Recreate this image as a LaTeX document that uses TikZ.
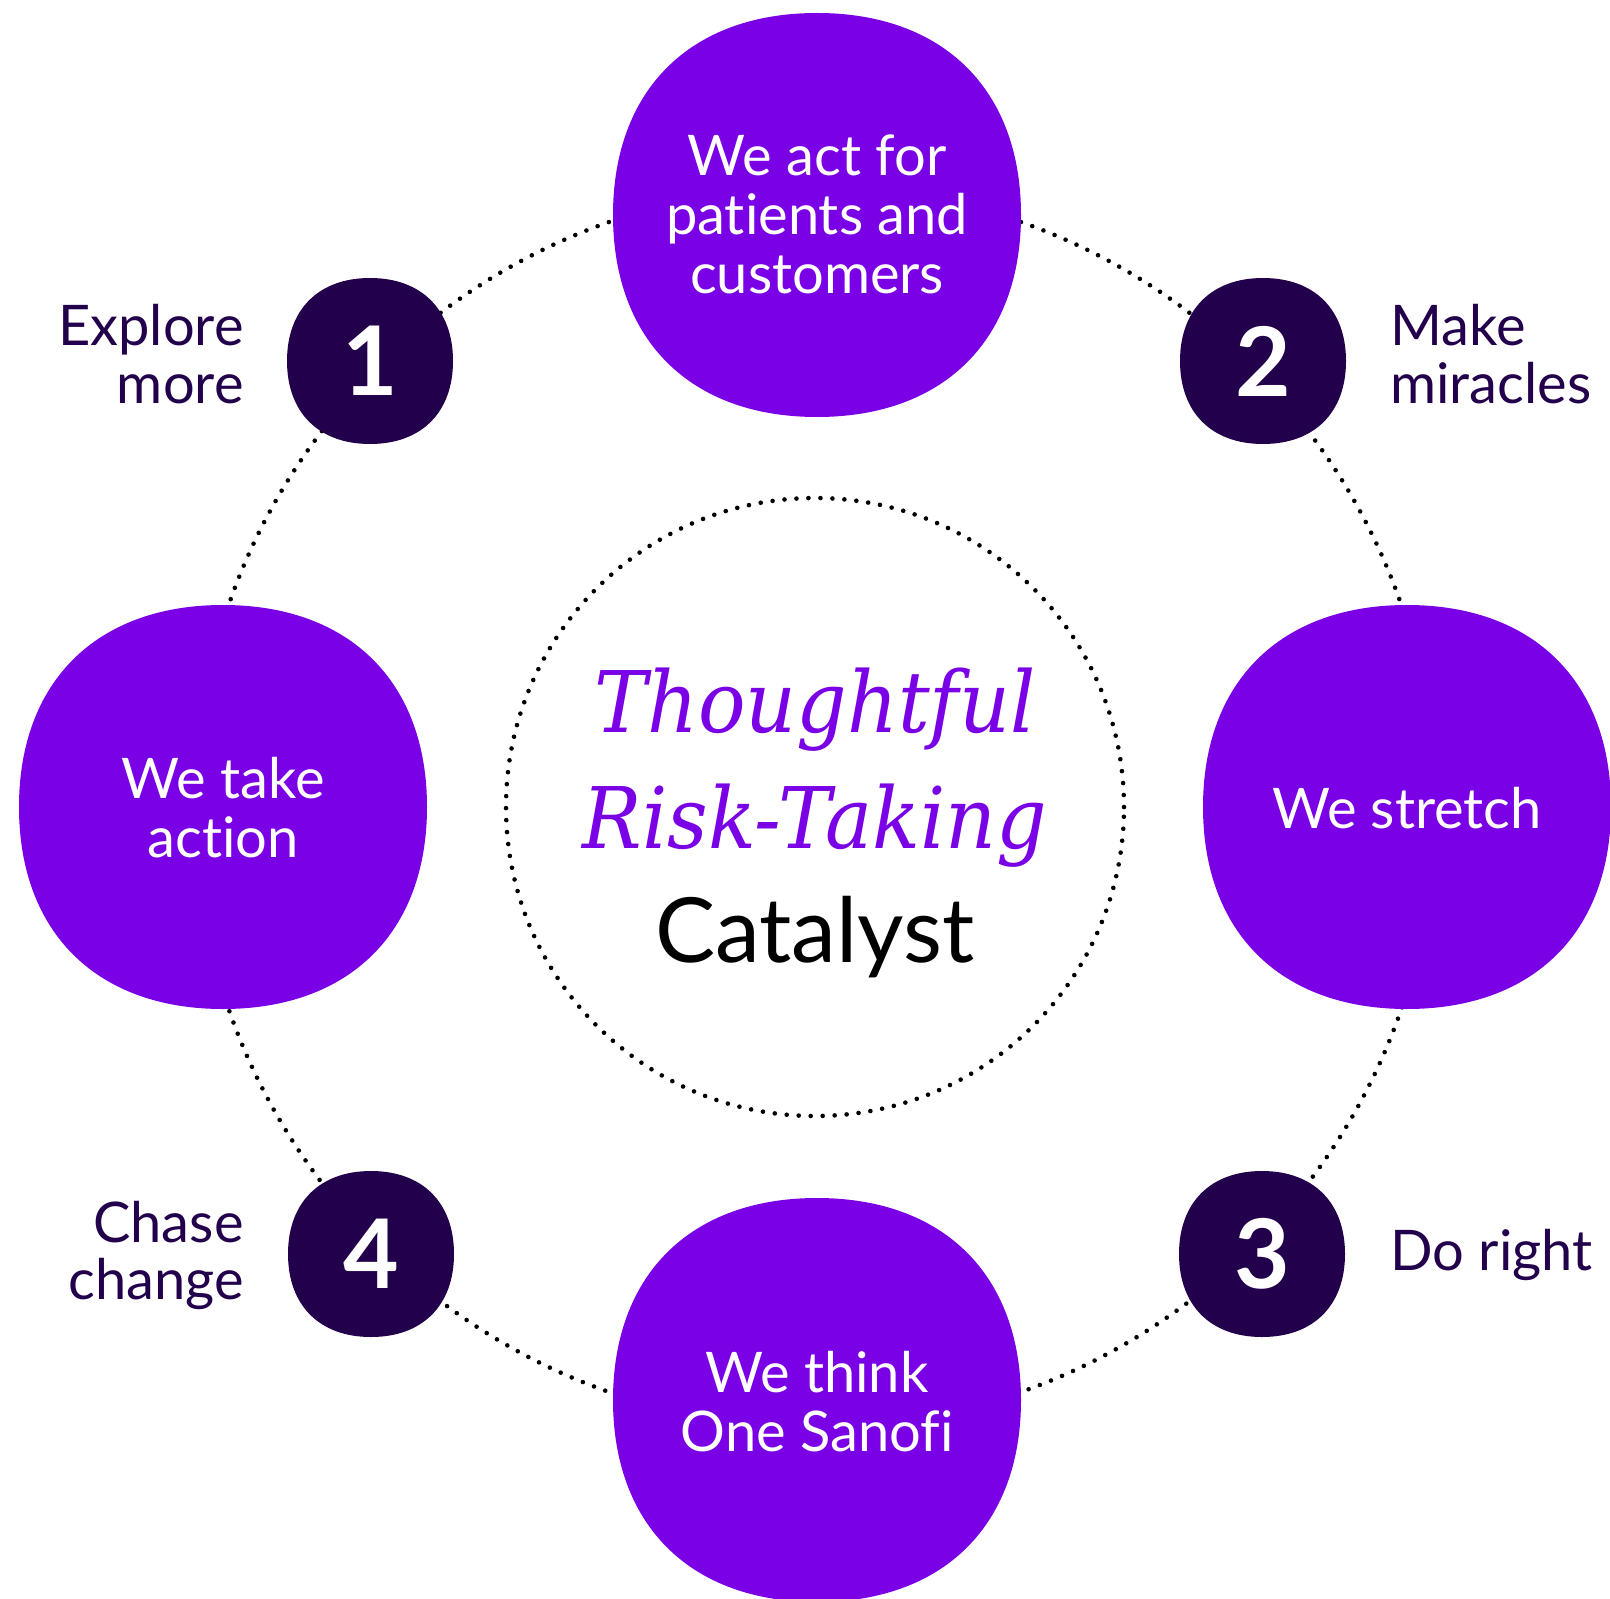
\documentclass[tikz,border=0pt]{standalone}
\usepackage{fontspec}
\setmainfont{Lato}[Ligatures=NoCommon]
\newfontfamily\slabfont{DejaVu Serif}[FakeStretch=0.93]
\usetikzlibrary{positioning}
\definecolor{valpurple}{HTML}{7A00E6}
\definecolor{valdark}{HTML}{23004C}
% squircle path: centre x, centre y, half width, half height
\newcommand{\squircle}[4]{(#1+#3,#2)
  .. controls (#1+#3,#2+0.62*#4) and (#1+0.62*#3,#2+#4) .. (#1,#2+#4)
  .. controls (#1-0.62*#3,#2+#4) and (#1-#3,#2+0.62*#4) .. (#1-#3,#2)
  .. controls (#1-#3,#2-0.62*#4) and (#1-0.62*#3,#2-#4) .. (#1,#2-#4)
  .. controls (#1+0.62*#3,#2-#4) and (#1+#3,#2-0.62*#4) .. (#1+#3,#2) -- cycle}

\begin{document}
\begin{tikzpicture}[x=0.5pt,y=-0.5pt,
  value/.style={text=white,align=center,inner sep=0pt,font=\fontsize{28}{29.5}\selectfont},
  num/.style={text=white,inner sep=0pt,font=\fontsize{48}{48}\selectfont\bfseries},
  lbl/.style={text=valdark,inner sep=0pt,font=\fontsize{28}{28.5}\selectfont},
  dots/.style={line width=2.3pt,line cap=round,dash pattern=on 0pt off 6pt}]
\useasboundingbox (0,0) rectangle (1610,1599);
\node[circle,draw,dots,minimum size=309pt,inner sep=0pt] (hub) at (815,807) {};
\draw[dots] (hub.center) circle[radius=620];

\fill[valpurple] \squircle{817}{215}{204}{202};
\fill[valpurple] \squircle{223}{807}{204}{202};
\fill[valpurple] \squircle{1407}{807}{204}{202};
\fill[valpurple] \squircle{817}{1400}{204}{202};
\fill[valdark] \squircle{370}{361}{83}{83};
\fill[valdark] \squircle{1263}{361}{83}{83};
\fill[valdark] \squircle{1262}{1254}{83}{83};
\fill[valdark] \squircle{371}{1254}{83}{83};

\node[value] (act) at (817,214) {We act for\\patients and\\customers};
\node[value] (take) at (223,808) {We take\\action};
\node[value] (stretch) at (1407,808) {We stretch};
\node[value] (think) at (817,1402) {We think\\One Sanofi};

\node[num] (n1) at (370,361) {1};
\node[num] (n2) at (1263,361) {2};
\node[num] (n3) at (1262,1254) {3};
\node[num] (n4) at (371,1254) {4};

% multi-line labels sit on their last baseline
\node[lbl,align=right,anchor=base east] (explore) at (244,403) {Explore\\more};
\node[lbl,align=left,anchor=base west] (make) at (1390,403) {Make\\miracles};
\node[lbl,anchor=base west] (doright) at (1390,1270) {Do right};
\node[lbl,align=right,anchor=base east] (chase) at (244,1299) {Chase\\change};

\node[anchor=base,inner sep=0pt,text=valpurple,font=\slabfont\itshape\fontsize{42.5}{42.5}\selectfont] (thought) at (815,732) {Thoughtful};
\node[anchor=base,inner sep=0pt,text=valpurple,font=\slabfont\itshape\fontsize{42.5}{42.5}\selectfont] (risk) at (815,848) {Risk-Taking};
\node[anchor=base,inner sep=0pt,text=black,font=\fontsize{45}{45}\selectfont] (catalyst) at (815,962) {Catalyst};
\end{tikzpicture}
\end{document}
